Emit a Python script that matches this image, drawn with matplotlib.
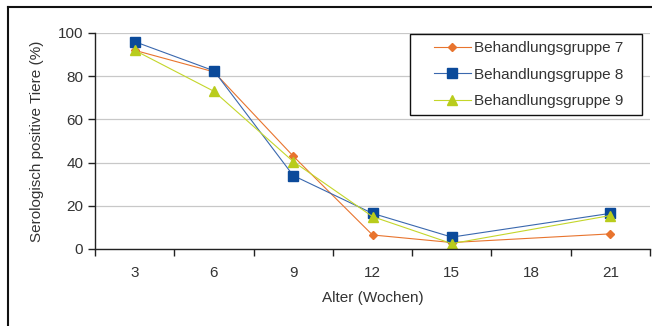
import numpy as np
import matplotlib
matplotlib.use("Agg")
import matplotlib.pyplot as plt
from matplotlib.lines import Line2D
from matplotlib.patches import Rectangle

plt.rcParams['font.family'] = ['Liberation Sans', 'DejaVu Sans']

weeks = ["3", "6", "9", "12", "15", "18", "21"]
gruppe7 = [92, 82, 43, 6.5, 3, None, 7]
gruppe8 = [96, 82.5, 34, 16.5, 5.5, None, 16.5]
gruppe9 = [92, 73, 40.5, 15, 2.5, None, 15.5]
series_names = ["Behandlungsgruppe 7", "Behandlungsgruppe 8", "Behandlungsgruppe 9"]
yticks = [0, 20, 40, 60, 80, 100]

W, H = 652, 326
fig = plt.figure(figsize=(W / 100, H / 100), dpi=100)
ax = fig.add_axes([95 / W, 1 - 249 / H, 555 / W, 216 / H])

styles = [
    dict(color="#E8742E", marker="D", markersize=4.5, mec="#E8742E", mfc="#E8742E"),
    dict(color="#3A68AE", marker="s", markersize=6.5, mec="#0B4A9A", mfc="#0B4A9A"),
    dict(color="#C4D62A", marker="^", markersize=6.5, mec="#B9CC1C", mfc="#B9CC1C"),
]

for vals, name, st in zip([gruppe7, gruppe8, gruppe9], series_names, styles):
    xs = [i for i, v in enumerate(vals) if v is not None]
    ys = [v for v in vals if v is not None]
    ax.plot(xs, ys, lw=0.8, label=name, **st)

ax.set_xlim(-0.5, len(weeks) - 0.5)
ax.set_ylim(0, 100)
ax.set_xticks(np.arange(-0.5, len(weeks)))
ax.set_xticklabels([])
ax.set_xticks(np.arange(len(weeks)), minor=True)
ax.set_xticklabels(weeks, minor=True)
ax.tick_params(axis="x", which="minor", length=0, pad=12, labelsize=11, labelcolor="#333333")
ax.tick_params(axis="x", which="major", length=5, width=1, direction="out", color="#222222")
ax.set_yticks(yticks)
ax.tick_params(axis="y", length=5, width=1, direction="out", labelsize=11, labelcolor="#333333", color="#222222")

ax.yaxis.grid(True, color="#C8C8C8", lw=0.9)
ax.set_axisbelow(True)
for s in ["top", "right"]:
    ax.spines[s].set_visible(False)
for s in ["left", "bottom"]:
    ax.spines[s].set_color("#222222")
    ax.spines[s].set_linewidth(1)

ax.set_xlabel("Alter (Wochen)", fontsize=11, color="#333333", labelpad=8)
ax.set_ylabel("Serologisch positive Tiere (%)", fontsize=11, color="#333333", labelpad=10)

# legend without its own frame, framed by a wider box like the original
leg = fig.legend(*ax.get_legend_handles_labels(), loc="upper left",
                 bbox_to_anchor=(434 / W, 1 - 41 / H), fontsize=11, frameon=False,
                 handlelength=2.4, borderpad=0, borderaxespad=0,
                 labelspacing=0.82, handletextpad=0.2)
for t in leg.get_texts():
    t.set_color("#333333")
fig.add_artist(Rectangle((410 / W, 1 - 115 / H), 232 / W, 81 / H, transform=fig.transFigure,
                         fill=True, facecolor="white", edgecolor="#111111", lw=1, zorder=2.5))
leg.set_zorder(3)

fig.add_artist(Line2D([8 / W, 8 / W], [0, 1 - 7 / H], color="#111111", lw=1.5))
fig.add_artist(Line2D([8 / W, 1], [1 - 7 / H, 1 - 7 / H], color="#111111", lw=1.5))

fig.savefig("out.png", dpi=100)
